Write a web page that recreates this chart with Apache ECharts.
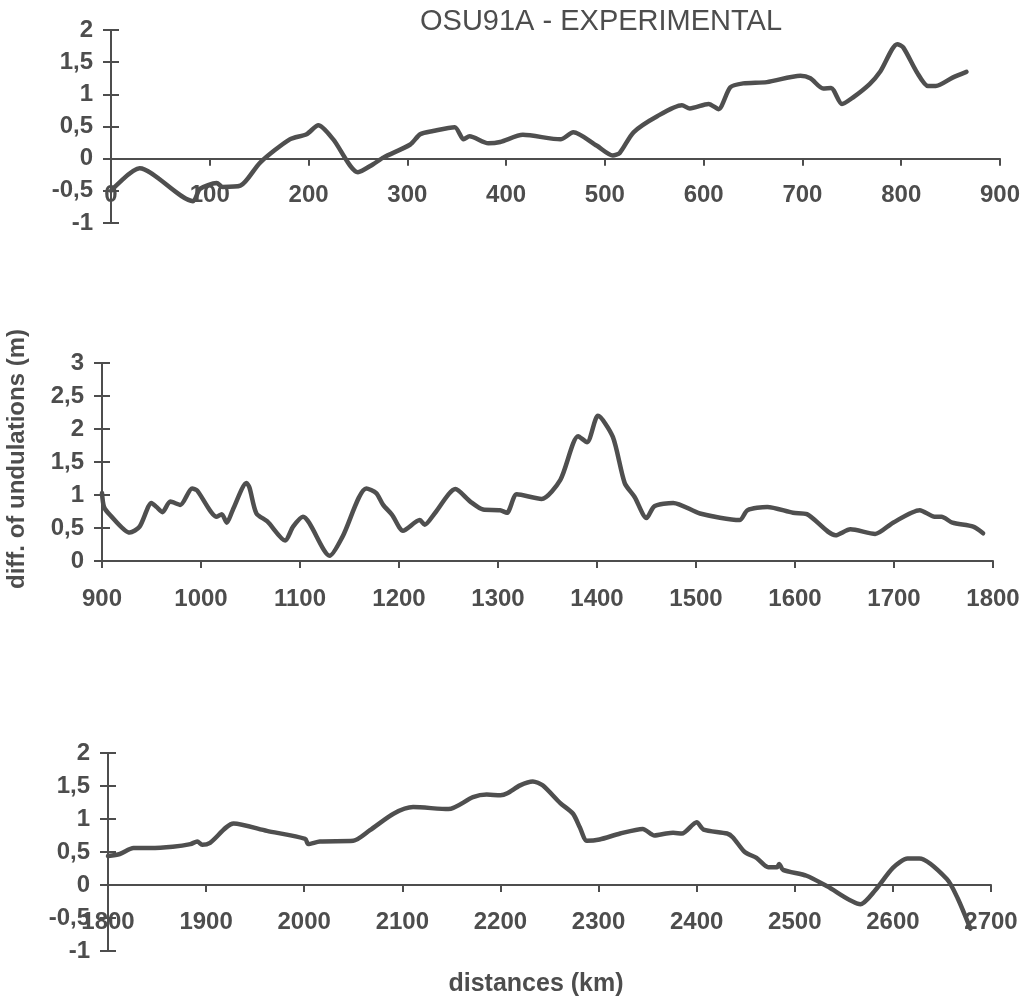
<!DOCTYPE html>
<html>
<head>
<meta charset="utf-8">
<title>OSU91A - EXPERIMENTAL</title>
<script src="https://cdn.jsdelivr.net/npm/echarts@6/dist/echarts.min.js"></script>
<style>
  html, body { margin: 0; padding: 0; background: #fff; }
  #chart { width: 1035px; height: 1004px; }
</style>
</head>
<body>
<div id="chart"></div>
<script>
// distances (km) and diff. of undulations (m)
const topDist = [0, 29, 83, 90, 107, 113, 131, 151, 181, 198, 210, 225, 250, 265, 276, 303, 313, 326, 348, 357, 363, 382, 394, 417, 455, 468, 492, 508, 515, 529, 553, 578, 586, 605, 615, 627, 640, 664, 698, 708, 721, 729, 740, 751, 768, 779, 796, 802, 816, 827, 835, 852, 866]
const topDiff = [-0.5, -0.15, -0.66, -0.47, -0.38, -0.44, -0.42, -0.06, 0.30, 0.38, 0.52, 0.30, -0.21, -0.09, 0.02, 0.22, 0.38, 0.43, 0.49, 0.30, 0.35, 0.24, 0.26, 0.37, 0.30, 0.41, 0.20, 0.05, 0.09, 0.41, 0.66, 0.83, 0.78, 0.85, 0.77, 1.11, 1.17, 1.19, 1.29, 1.25, 1.09, 1.10, 0.85, 0.95, 1.16, 1.36, 1.78, 1.73, 1.34, 1.13, 1.13, 1.26, 1.35]

const midDist = [900, 902, 908, 928, 938, 950, 955, 961, 969, 979, 991, 996, 1016, 1021, 1026, 1032, 1046, 1049, 1056, 1067, 1085, 1093, 1103, 1130, 1143, 1167, 1177, 1184, 1193, 1204, 1221, 1226, 1236, 1257, 1272, 1285, 1302, 1309, 1319, 1344, 1363, 1381, 1390, 1401, 1416, 1428, 1438, 1450, 1458, 1477, 1504, 1544, 1552, 1572, 1598, 1612, 1641, 1656, 1681, 1699, 1726, 1741, 1748, 1759, 1780, 1790]
const midDiff = [1.03, 0.82, 0.70, 0.43, 0.52, 0.88, 0.82, 0.74, 0.90, 0.85, 1.10, 1.07, 0.67, 0.71, 0.58, 0.77, 1.18, 1.11, 0.72, 0.60, 0.31, 0.52, 0.67, 0.08, 0.37, 1.10, 1.03, 0.85, 0.70, 0.46, 0.62, 0.55, 0.72, 1.09, 0.90, 0.78, 0.77, 0.73, 1.01, 0.94, 1.23, 1.89, 1.80, 2.20, 1.88, 1.18, 0.97, 0.65, 0.83, 0.88, 0.72, 0.62, 0.77, 0.82, 0.73, 0.71, 0.39, 0.48, 0.41, 0.58, 0.77, 0.67, 0.67, 0.58, 0.52, 0.42]

const botDist = [1800, 1812, 1826, 1843, 1866, 1884, 1891, 1896, 1904, 1928, 1962, 2001, 2004, 2016, 2050, 2067, 2091, 2111, 2147, 2172, 2186, 2200, 2207, 2220, 2233, 2243, 2261, 2274, 2281, 2288, 2301, 2322, 2345, 2357, 2369, 2376, 2385, 2400, 2407, 2431, 2437, 2449, 2461, 2473, 2482, 2484, 2488, 2512, 2533, 2567, 2582, 2600, 2615, 2627, 2655, 2666, 2679]
const botDiff = [0.44, 0.47, 0.56, 0.56, 0.58, 0.62, 0.66, 0.61, 0.64, 0.93, 0.82, 0.70, 0.62, 0.66, 0.67, 0.83, 1.08, 1.18, 1.15, 1.33, 1.37, 1.36, 1.39, 1.51, 1.57, 1.51, 1.24, 1.08, 0.87, 0.67, 0.69, 0.78, 0.85, 0.75, 0.78, 0.79, 0.78, 0.95, 0.84, 0.78, 0.72, 0.50, 0.41, 0.27, 0.27, 0.32, 0.23, 0.14, -0.02, -0.29, -0.08, 0.26, 0.40, 0.40, 0.09, -0.20, -0.66]

// x range and y range of each panel
const xRanges = [[0, 900], [900, 1800], [1800, 2700]]
const yRanges = [[-1, 2], [0, 3], [-1, 2]]
// x labels sit just under the zero line, not under the plot bottom
const xLabelMargins = [-40, 26, -41]

const ink = '#4d4d4d'
const font = "'Liberation Sans', Arial, sans-serif"
const comma = (v) => String(v).replace('.', ',')

const chart = echarts.init(document.getElementById('chart'))

const grids = [
  { left: 111, top: 30, width: 889, height: 193 },
  { left: 102, top: 363, width: 891, height: 198 },
  { left: 108, top: 753, width: 883, height: 198 }
]

const xAxes = []
const yAxes = []
grids.forEach((g, i) => {
  // main axis: line, outward ticks, labels
  xAxes.push({
    type: 'value', gridIndex: i, min: xRanges[i][0], max: xRanges[i][1], interval: 100,
    axisLine: { onZero: true, onZeroAxisIndex: i * 2, lineStyle: { color: ink, width: 2 } },
    axisTick: { show: true, inside: false, length: 7, lineStyle: { color: ink, width: 2 } },
    axisLabel: { color: ink, fontFamily: font, fontWeight: 'bold', fontSize: 24, margin: xLabelMargins[i], formatter: (v) => String(v) },
    splitLine: { show: false }
  })
  // overlay axis only for the upper half of the crossing ticks
  xAxes.push({
    type: 'value', gridIndex: i, min: xRanges[i][0], max: xRanges[i][1], interval: 100,
    axisLine: { show: false, onZero: true, onZeroAxisIndex: i * 2 },
    axisTick: { show: true, inside: true, length: 7, lineStyle: { color: ink, width: 2 } },
    axisLabel: { show: false },
    splitLine: { show: false }
  })
  yAxes.push({
    type: 'value', gridIndex: i, min: yRanges[i][0], max: yRanges[i][1], interval: 0.5,
    position: 'left',
    axisLine: { show: true, onZero: false, lineStyle: { color: ink, width: 2 } },
    axisTick: { show: true, inside: false, length: 8, lineStyle: { color: ink, width: 2 } },
    axisLabel: { color: ink, fontFamily: font, fontWeight: 'bold', fontSize: 24, margin: 18, formatter: comma },
    splitLine: { show: false }
  })
  yAxes.push({
    type: 'value', gridIndex: i, min: yRanges[i][0], max: yRanges[i][1], interval: 0.5,
    position: 'left', offset: 0,
    axisLine: { show: false, onZero: false },
    axisTick: { show: true, inside: true, length: 8, lineStyle: { color: ink, width: 2 } },
    axisLabel: { show: false },
    splitLine: { show: false }
  })
})

const pairs = (xs, ys) => xs.map((x, k) => [x, ys[k]])
const panelData = [pairs(topDist, topDiff), pairs(midDist, midDiff), pairs(botDist, botDiff)]

const series = panelData.map((d, i) => ({
  type: 'line',
  xAxisIndex: i * 2,
  yAxisIndex: i * 2,
  data: d,
  smooth: 0.25,
  showSymbol: false,
  lineStyle: { color: '#4f4f4f', width: 4.5, join: 'round', cap: 'round' }
}))

const option = {
  backgroundColor: '#fff',
  animation: false,
  grid: grids,
  xAxis: xAxes,
  yAxis: yAxes,
  series: series,
  graphic: [
    {
      type: 'text', left: 420, top: 7,
      style: { text: 'OSU91A - EXPERIMENTAL', fill: ink, font: '29px ' + font }
    },
    {
      type: 'text', x: 17, y: 459, rotation: Math.PI / 2,
      style: { text: 'diff. of undulations (m)', fill: ink, font: 'bold 24px ' + font, align: 'center', verticalAlign: 'middle' }
    },
    {
      type: 'text', x: 536, y: 984,
      style: { text: 'distances (km)', fill: ink, font: 'bold 25px ' + font, align: 'center', verticalAlign: 'middle' }
    }
  ]
}

chart.setOption(option)
</script>
</body>
</html>
